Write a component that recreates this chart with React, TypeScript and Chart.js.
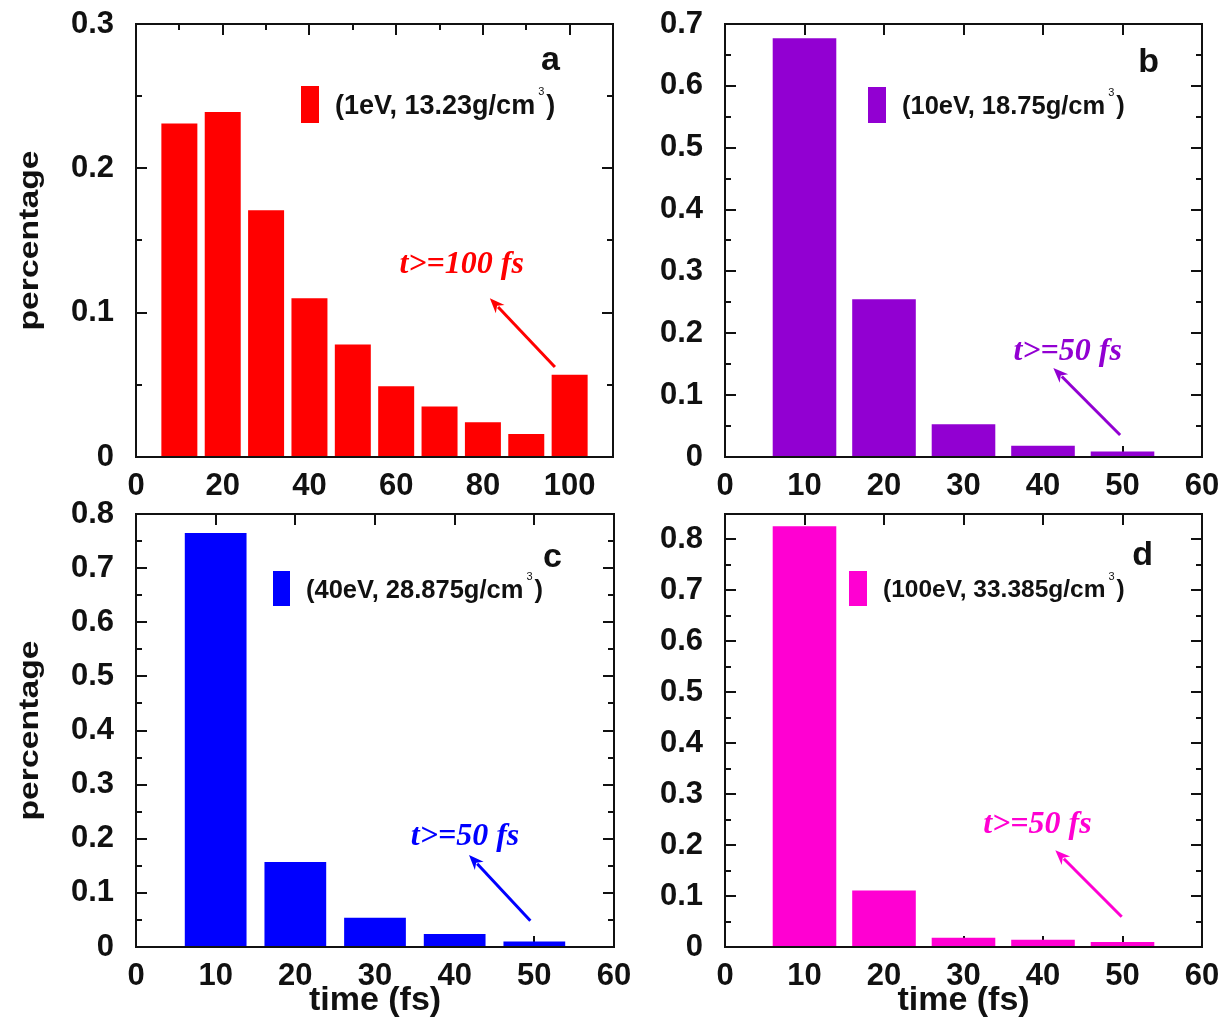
import React, { useEffect, useRef } from 'react';
import { Chart, registerables } from 'chart.js';

Chart.register(...registerables);

const PAGE_W = 1223;
const PAGE_H = 1022;

// Residence-time histograms (fraction of events per 10 fs bin)
const timesA = [10, 20, 30, 40, 50, 60, 70, 80, 90, 100];
const percentA = [0.231, 0.239, 0.171, 0.110, 0.078, 0.049, 0.035, 0.024, 0.016, 0.057];

const timesShort = [10, 20, 30, 40, 50];
const percentB = [0.677, 0.255, 0.053, 0.018, 0.009];
const percentC = [0.765, 0.157, 0.054, 0.024, 0.010];
const percentD = [0.826, 0.111, 0.018, 0.014, 0.010];

// Series labels (temperature, density)
const labelA = '(1eV, 13.23g/cm³)';
const labelB = '(10eV, 18.75g/cm³)';
const labelC = '(40eV, 28.875g/cm³)';
const labelD = '(100eV, 33.385g/cm³)';

// Last-bin notes
const noteA = 't>=100 fs';
const noteShort = 't>=50 fs';

// Tick values
const xTicksA = [0, 20, 40, 60, 80, 100];
const xTicksShort = [0, 10, 20, 30, 40, 50, 60];
const yTicksA = [0, 0.1, 0.2, 0.3];
const yTicksB = [0, 0.1, 0.2, 0.3, 0.4, 0.5, 0.6, 0.7];
const yTicksCD = [0, 0.1, 0.2, 0.3, 0.4, 0.5, 0.6, 0.7, 0.8];

const Y_TITLE = 'percentage';
const X_TITLE = 'time (fs)';

const SANS = '"Liberation Sans", Arial, Helvetica, sans-serif';
const SERIF = '"Liberation Serif", "Times New Roman", serif';
const INK = '#111111';

type Panel = {
  letter: string;
  times: number[];
  values: number[];
  color: string;
  label: string;
  note: string;
  xMax: number;
  xTicks: number[];
  xMajor: number;
  xMinor: number;
  yMax: number;
  yTicks: number[];
  area: [number, number, number, number]; // left, top, right, bottom (page px)
  barFrac: number;
  showYTitle: boolean;
  showXTitle: boolean;
  legendBox: { dx: number; dy: number; w: number; h: number; font: number };
  letterPos: { dxRight: number; dy: number };
  noteAt: [number, number];
  arrowFrom: [number, number];
  arrowTo: [number, number];
};

const panels: Panel[] = [
  {
    letter: 'a', times: timesA, values: percentA, color: '#ff0000', label: labelA, note: noteA,
    xMax: 110, xTicks: xTicksA, xMajor: 20, xMinor: 10,
    yMax: 0.3, yTicks: yTicksA,
    area: [136, 24, 613, 457], barFrac: 0.83, showYTitle: true, showXTitle: false,
    legendBox: { dx: 165, dy: 62, w: 18, h: 37, font: 27 },
    letterPos: { dxRight: 53, dy: 46 },
    noteAt: [75.1, 0.1275], arrowFrom: [96.6, 0.0624], arrowTo: [81.6, 0.110],
  },
  {
    letter: 'b', times: timesShort, values: percentB, color: '#9200d2', label: labelB, note: noteShort,
    xMax: 60, xTicks: xTicksShort, xMajor: 10, xMinor: 10,
    yMax: 0.7, yTicks: yTicksB,
    area: [725, 24, 1202, 457], barFrac: 0.8, showYTitle: false, showXTitle: false,
    legendBox: { dx: 143, dy: 63, w: 18, h: 36, font: 25.5 },
    letterPos: { dxRight: 43, dy: 48 },
    noteAt: [43.1, 0.157], arrowFrom: [49.7, 0.0356], arrowTo: [41.3, 0.1439],
  },
  {
    letter: 'c', times: timesShort, values: percentC, color: '#0000ff', label: labelC, note: noteShort,
    xMax: 60, xTicks: xTicksShort, xMajor: 10, xMinor: 10,
    yMax: 0.8, yTicks: yTicksCD,
    area: [136, 514, 614, 947], barFrac: 0.775, showYTitle: true, showXTitle: true,
    legendBox: { dx: 137, dy: 57, w: 17, h: 35, font: 25.5 },
    letterPos: { dxRight: 52, dy: 53 },
    noteAt: [41.3, 0.1885], arrowFrom: [49.5, 0.0486], arrowTo: [41.8, 0.170],
  },
  {
    letter: 'd', times: timesShort, values: percentD, color: '#ff00d2', label: labelD, note: noteShort,
    xMax: 60, xTicks: xTicksShort, xMajor: 10, xMinor: 10,
    yMax: 0.85, yTicks: yTicksCD,
    area: [725, 514, 1202, 947], barFrac: 0.8, showYTitle: false, showXTitle: true,
    legendBox: { dx: 124, dy: 57, w: 18, h: 35, font: 24.5 },
    letterPos: { dxRight: 49, dy: 51 },
    noteAt: [39.3, 0.223], arrowFrom: [49.9, 0.0595], arrowTo: [41.55, 0.190],
  },
];

const MAJOR_TICK = 11;
const MINOR_TICK = 6;
const Y_MINOR = 0.05;

function makeDecor(p: Panel) {
  return {
    id: 'panelDecor',
    beforeDatasetsDraw(chart: any) {
      const { ctx, chartArea: a, scales } = chart;
      const x = scales.x;
      const y = scales.y;
      ctx.save();
      ctx.strokeStyle = INK;
      ctx.lineWidth = 2;
      ctx.beginPath();
      const nx = Math.round(p.xMax / p.xMinor);
      for (let i = 1; i <= nx; i++) {
        const v = i * p.xMinor;
        if (v >= p.xMax - 1e-9) continue;
        const major = Math.abs(v / p.xMajor - Math.round(v / p.xMajor)) < 1e-6;
        const len = major ? MAJOR_TICK : MINOR_TICK;
        const px = Math.round(x.getPixelForValue(v));
        ctx.moveTo(px, a.top); ctx.lineTo(px, a.top + len);
        ctx.moveTo(px, a.bottom); ctx.lineTo(px, a.bottom - len);
      }
      const ny = Math.round(p.yMax / Y_MINOR);
      for (let i = 1; i <= ny; i++) {
        const v = i * Y_MINOR;
        if (v >= p.yMax - 1e-9) continue;
        const major = i % 2 === 0;
        const len = major ? MAJOR_TICK : MINOR_TICK;
        const py = Math.round(y.getPixelForValue(v));
        ctx.moveTo(a.left, py); ctx.lineTo(a.left + len, py);
        ctx.moveTo(a.right, py); ctx.lineTo(a.right - len, py);
      }
      ctx.stroke();
      ctx.restore();
    },
    afterDatasetsDraw(chart: any) {
      const { ctx, chartArea: a, scales } = chart;
      const x = scales.x;
      const y = scales.y;
      ctx.save();
      // frame
      ctx.strokeStyle = INK;
      ctx.lineWidth = 2;
      ctx.strokeRect(a.left, a.top, a.right - a.left, a.bottom - a.top);

      // vertical axis title, set in a narrow bold face stretched along the text
      if (p.showYTitle) {
        ctx.save();
        ctx.fillStyle = INK;
        ctx.font = `bold 27px ${SANS}`;
        ctx.textAlign = 'center';
        ctx.textBaseline = 'alphabetic';
        ctx.translate(38, (a.top + a.bottom) / 2);
        ctx.rotate(-Math.PI / 2);
        ctx.scale(1.25, 1);
        ctx.fillText(Y_TITLE, 0, 0);
        ctx.restore();
      }

      // legend swatch and label with superscript
      const lb = p.legendBox;
      const bx = a.left + lb.dx;
      const by = a.top + lb.dy;
      ctx.fillStyle = p.color;
      ctx.fillRect(bx, by, lb.w, lb.h);
      const [main, tail] = p.label.split('³');
      ctx.fillStyle = INK;
      ctx.font = `bold ${lb.font}px ${SANS}`;
      ctx.textAlign = 'left';
      ctx.textBaseline = 'alphabetic';
      const tx = bx + lb.w + 16;
      const baseline = by + lb.h / 2 + lb.font * 0.36;
      ctx.fillText(main, tx, baseline);
      let cx = tx + ctx.measureText(main).width + 3;
      ctx.font = `11px ${SANS}`;
      ctx.fillText('3', cx, baseline - lb.font * 0.7);
      cx += ctx.measureText('3').width + 2;
      ctx.font = `bold ${lb.font}px ${SANS}`;
      ctx.fillText(tail, cx, baseline);

      // panel letter
      ctx.font = `bold 34px ${SANS}`;
      ctx.textAlign = 'right';
      ctx.fillText(p.letter, a.right - p.letterPos.dxRight, a.top + p.letterPos.dy);

      // note with arrow pointing at it from the last bin
      ctx.fillStyle = p.color;
      ctx.strokeStyle = p.color;
      ctx.font = `italic bold 32px ${SERIF}`;
      ctx.textAlign = 'center';
      ctx.fillText(p.note, x.getPixelForValue(p.noteAt[0]), y.getPixelForValue(p.noteAt[1]));

      const x0 = x.getPixelForValue(p.arrowFrom[0]);
      const y0 = y.getPixelForValue(p.arrowFrom[1]);
      const x1 = x.getPixelForValue(p.arrowTo[0]);
      const y1 = y.getPixelForValue(p.arrowTo[1]);
      const ang = Math.atan2(y1 - y0, x1 - x0);
      const head = 15;
      const half = 6;
      ctx.lineWidth = 3;
      ctx.beginPath();
      ctx.moveTo(x0, y0);
      ctx.lineTo(x1 - Math.cos(ang) * head * 0.8, y1 - Math.sin(ang) * head * 0.8);
      ctx.stroke();
      ctx.beginPath();
      ctx.moveTo(x1, y1);
      ctx.lineTo(x1 - Math.cos(ang) * head - Math.sin(ang) * half, y1 - Math.sin(ang) * head + Math.cos(ang) * half);
      ctx.lineTo(x1 - Math.cos(ang) * head * 0.7, y1 - Math.sin(ang) * head * 0.7);
      ctx.lineTo(x1 - Math.cos(ang) * head + Math.sin(ang) * half, y1 - Math.sin(ang) * head - Math.cos(ang) * half);
      ctx.closePath();
      ctx.fill();
      ctx.restore();
    },
  };
}

function PanelChart({ panel }: { panel: Panel }) {
  const ref = useRef<HTMLCanvasElement | null>(null);

  useEffect(() => {
    const canvas = ref.current;
    if (!canvas) return;
    const [left, top, right, bottom] = panel.area;
    const tickFont = { family: SANS, size: 31, weight: 'bold' as const };
    const titleFont = { family: SANS, size: 34, weight: 'bold' as const };

    const chart = new Chart(canvas, {
      type: 'bar',
      data: {
        datasets: [
          {
            label: panel.label,
            data: panel.times.map((t, i) => ({ x: t, y: panel.values[i] })),
            backgroundColor: panel.color,
            borderWidth: 0,
            barPercentage: 1,
            categoryPercentage: panel.barFrac,
          },
        ],
      },
      options: {
        responsive: false,
        animation: false,
        events: [],
        layout: { padding: { left: 0, top, right: PAGE_W - right, bottom: 0 } },
        plugins: {
          legend: { display: false },
          tooltip: { enabled: false },
        },
        scales: {
          x: {
            type: 'linear',
            min: 0,
            max: panel.xMax,
            offset: false,
            grid: { display: false, drawTicks: false },
            border: { display: false },
            afterBuildTicks: (s: any) => {
              s.ticks = panel.xTicks.map((v) => ({ value: v }));
            },
            afterFit: (s: any) => {
              s.height = PAGE_H - bottom;
              s.paddingLeft = 0;
              s.paddingRight = 0;
              s.paddingTop = 0;
              s.paddingBottom = 0;
            },
            ticks: {
              autoSkip: false,
              maxRotation: 0,
              padding: 11,
              color: INK,
              font: tickFont,
              callback: (v: any) => String(v),
            },
            title: {
              display: panel.showXTitle,
              text: X_TITLE,
              color: INK,
              font: titleFont,
              padding: { top: 0, bottom: 1 },
            },
          },
          y: {
            type: 'linear',
            min: 0,
            max: panel.yMax,
            grid: { display: false, drawTicks: false },
            border: { display: false },
            afterBuildTicks: (s: any) => {
              s.ticks = panel.yTicks.map((v) => ({ value: v }));
            },
            afterFit: (s: any) => {
              s.width = left;
              s.paddingLeft = 0;
              s.paddingRight = 0;
              s.paddingTop = 0;
              s.paddingBottom = 0;
            },
            ticks: {
              padding: 22,
              color: INK,
              font: tickFont,
              callback: (v: any) => (Number(v) === 0 ? '0' : Number(v).toFixed(1)),
            },
          },
        },
      },
      plugins: [makeDecor(panel)],
    } as any);

    return () => chart.destroy();
  }, [panel]);

  return (
    <canvas
      ref={ref}
      width={PAGE_W}
      height={PAGE_H}
      style={{ position: 'absolute', left: 0, top: 0, width: PAGE_W, height: PAGE_H }}
    />
  );
}

export default function App() {
  return (
    <div
      style={{
        position: 'absolute',
        left: 0,
        top: 0,
        width: PAGE_W,
        height: PAGE_H,
        background: '#ffffff',
        overflow: 'hidden',
      }}
    >
      {panels.map((p) => (
        <PanelChart key={p.letter} panel={p} />
      ))}
    </div>
  );
}
